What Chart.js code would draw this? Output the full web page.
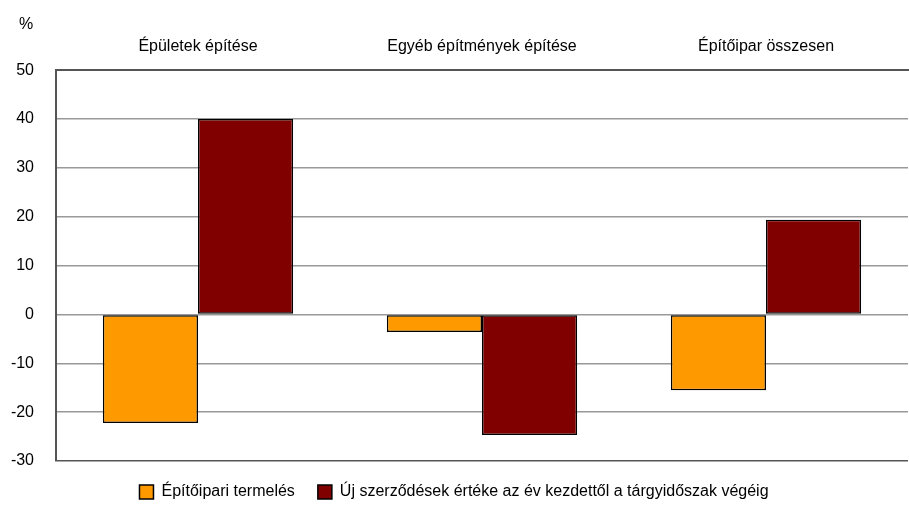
<!DOCTYPE html>
<html>
<head>
<meta charset="utf-8">
<script src="https://cdn.jsdelivr.net/npm/chart.js@4/dist/chart.umd.min.js"></script>
<style>
  body { margin: 0; background: #fff; }
  #wrap { width: 909px; height: 514px; }
</style>
</head>
<body>
<div id="wrap"><canvas id="chart" width="909" height="514"></canvas></div>
<script>
'use strict';

var categories = ['Épületek építése', 'Egyéb építmények építése', 'Építőipar összesen'];
var productionValues = [-22.2, -3.6, -15.5];
var contractValues = [40.0, -24.7, 19.4];
var seriesNames = ['Építőipari termelés', 'Új szerződések értéke az év kezdettől a tárgyidőszak végéig'];
var yMin = -30, yMax = 50, yStep = 10;

var FONT = 'Liberation Sans, Arial, sans-serif';

// the "%" unit label in the top-left corner
var unitLabel = {
    id: 'unitLabel',
    afterDraw: function(chart) {
        var ctx = chart.ctx;
        ctx.save();
        ctx.font = '16px ' + FONT;
        ctx.fillStyle = '#000';
        ctx.textBaseline = 'middle';
        ctx.fillText('%', 19, 25);
        ctx.restore();
    }
};

new Chart(document.getElementById('chart'), {
    type: 'bar',
    data: {
        labels: categories,
        datasets: [
            {
                label: seriesNames[0],
                data: productionValues,
                backgroundColor: '#FF9900',
                borderColor: '#000',
                borderWidth: 1.5,
                borderSkipped: false
            },
            {
                label: seriesNames[1],
                data: contractValues,
                backgroundColor: '#800000',
                borderColor: '#000',
                borderWidth: 1.5,
                borderSkipped: false
            }
        ]
    },
    options: {
        responsive: false,
        animation: false,
        layout: { padding: { top: 23, left: 0, right: 1, bottom: 4 } },
        datasets: { bar: { categoryPercentage: 0.67, barPercentage: 1.0 } },
        plugins: {
            legend: {
                position: 'bottom',
                labels: {
                    boxWidth: 14,
                    boxHeight: 14,
                    padding: 23,
                    color: '#000',
                    font: { family: FONT, size: 16 }
                }
            },
            tooltip: { enabled: false }
        },
        scales: {
            x: {
                position: 'top',
                grid: { display: false, drawTicks: false },
                border: { color: '#555', width: 2 },
                ticks: { color: '#000', padding: 14, font: { family: FONT, size: 16 } }
            },
            y: {
                min: yMin,
                max: yMax,
                afterFit: function(scale) { scale.width = 56; },
                ticks: { stepSize: yStep, color: '#000', padding: 22, font: { family: FONT, size: 16 } },
                grid: {
                    drawTicks: false,
                    lineWidth: 1.5,
                    color: function(c) {
                        return (c.tick && (c.tick.value === yMin || c.tick.value === yMax)) ? '#555' : '#999';
                    }
                },
                border: { color: '#555', width: 2 }
            }
        }
    },
    plugins: [unitLabel]
});
</script>
</body>
</html>
